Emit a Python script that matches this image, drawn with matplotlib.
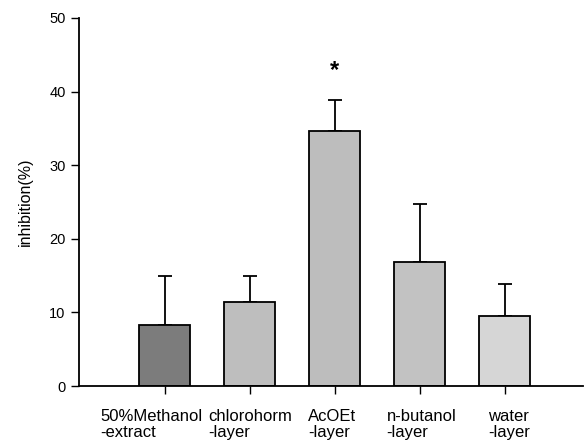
import matplotlib
matplotlib.use("Agg")
import matplotlib.pyplot as plt
import matplotlib.transforms as mtransforms

plt.rcParams['font.family'] = ['Liberation Sans', 'DejaVu Sans']

labels = ["50%Methanol\n-extract", "chlorohorm\n-layer", "AcOEt\n-layer",
          "n-butanol\n-layer", "water\n-layer"]
means = [8.25, 11.4, 34.7, 16.8, 9.5]
errs = [6.65, 3.5, 4.2, 7.9, 4.4]
colors = ['#7c7c7c', '#bebebe', '#bdbdbd', '#c2c2c2', '#d6d6d6']
label_shift = [-0.16, 0.0, -0.03, 0.02, 0.05]

pos = [1, 2, 3, 4, 5]

fig = plt.figure(figsize=(5.84, 4.44), dpi=100)
ax = fig.add_axes([0.135, 0.1306, 0.863, 0.829])

ax.bar(pos, means, width=0.6, color=colors, edgecolor='black', linewidth=1.3, zorder=2)
ax.errorbar(pos, means, yerr=[[0]*5, errs], fmt='none', ecolor='black',
            elinewidth=1.3, capsize=5, capthick=1.3, zorder=1)

# significance mark over AcOEt
ax.text(3, 42.8, '*', ha='center', va='center', fontsize=17, fontweight='bold')

ax.set_xlim(-0.012, 5.918)
ax.set_ylim(0, 50)
ax.set_yticks([0, 10, 20, 30, 40, 50])
ax.set_xticks(pos)
ax.set_xticklabels([])
ax.tick_params(axis='y', labelsize=10.5, length=6, width=1, direction='out')
ax.tick_params(axis='x', length=6, width=1, direction='out')

trans = mtransforms.blended_transform_factory(ax.transData, ax.transAxes)
for p, lab, s in zip(pos, labels, label_shift):
    ax.text(p + s, -0.063, lab, transform=trans, ha='center', va='top',
            multialignment='left', fontsize=12, linespacing=1.05)

ax.set_ylabel('inhibition(%)', fontsize=11.5, labelpad=12)

for side in ['top', 'right']:
    ax.spines[side].set_visible(False)
ax.spines['left'].set_linewidth(1.3)
ax.spines['bottom'].set_linewidth(1.3)

fig.savefig("out.png", dpi=100)
